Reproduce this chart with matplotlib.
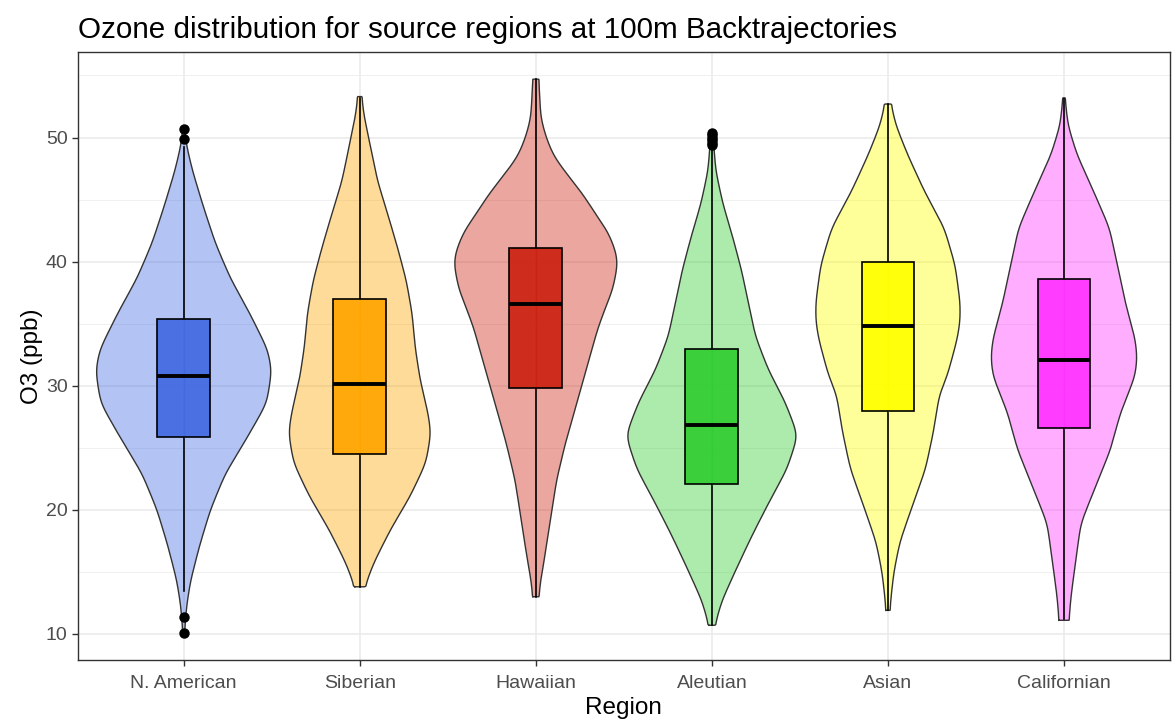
import numpy as np
import matplotlib
matplotlib.use("Agg")
import matplotlib.pyplot as plt

# ---------------- data ----------------
regions = ["N. American", "Siberian", "Hawaiian", "Aleutian", "Asian", "Californian"]
box_colors = ["#4169E1", "#FFA500", "#CC2211", "#32CD32", "#FFFF00", "#FF33FF"]

# violin outlines: (O3 value, relative density)
na_violin = [(10.1, 0.8), (12.3, 3), (14.3, 7), (17.1, 16), (20.0, 27), (22.9, 42), (25.8, 64),
             (28.6, 84), (31.2, 89), (32.9, 85), (35.8, 67), (38.7, 47), (41.5, 32), (44.4, 20),
             (47.3, 9), (49.3, 3), (50.7, 0.8)]
sib_violin = [(13.8, 5), (15.7, 14), (18.4, 31), (21.1, 51), (23.8, 67), (26.2, 72), (27.8, 69),
              (30.5, 61), (33.1, 56), (35.8, 53), (38.5, 47), (41.2, 38), (43.9, 28), (46.5, 18),
              (49.2, 11), (51.9, 4), (53.3, 2)]
haw_violin = [(13.0, 3), (14.4, 5), (16.2, 9), (19.3, 15), (22.4, 21), (25.4, 30), (28.5, 41),
              (31.6, 52), (34.7, 63), (36.2, 70), (37.8, 78), (39.9, 83), (40.8, 81), (42.4, 73),
              (43.9, 60), (45.5, 47), (47.0, 32), (48.5, 18), (50.1, 10), (51.6, 5), (54.7, 3)]
ale_violin = [(10.7, 3), (12.65, 10), (15.3, 25), (18.0, 41), (20.65, 58), (23.3, 76), (26.0, 87),
              (28.7, 74), (31.3, 57), (34.0, 44), (36.65, 37), (39.3, 30), (42.0, 21), (44.7, 11),
              (47.3, 4), (49.2, 2), (50.4, 1.5)]
asi_violin = [(11.9, 2), (12.9, 3), (15.0, 6), (17.4, 12), (20.4, 25), (23.3, 38), (26.3, 46),
              (29.3, 52), (30.8, 60), (33.75, 70), (35.2, 73), (36.7, 73), (39.7, 68), (42.7, 57),
              (45.65, 37), (48.6, 20), (51.0, 8), (52.7, 3)]
cal_violin = [(11.1, 5), (13.0, 7), (16.0, 12), (18.9, 17), (21.9, 32), (24.85, 47), (27.8, 57),
              (30.8, 72), (32.3, 74), (33.75, 72), (36.7, 62), (39.7, 54), (42.7, 46), (45.65, 30),
              (48.65, 13), (51.0, 4), (53.2, 1)]
violins = [na_violin, sib_violin, haw_violin, ale_violin, asi_violin, cal_violin]

q1 = [25.9, 24.5, 29.85, 22.1, 28.0, 26.6]
median = [30.75, 30.15, 36.6, 26.85, 34.8, 32.1]
q3 = [35.35, 36.95, 41.1, 32.95, 40.0, 38.6]
whisker_lo = [13.5, 13.8, 13.0, 10.7, 11.9, 11.2]
whisker_hi = [49.2, 53.2, 54.7, 49.0, 52.7, 53.1]
outliers = [[50.7, 49.9, 11.4, 10.1], [], [], [50.4, 50.2, 50.0, 49.8, 49.6, 49.4], [], []]

yticks = [10, 20, 30, 40, 50]


def smooth_profile(vy, vd, yy, sigma=0.6):
    """linear interpolation of the read outline, then gentle gaussian smoothing"""
    lin = np.interp(yy, vy, vd)
    step = yy[1] - yy[0]
    r = int(np.ceil(3 * sigma / step))
    k = np.exp(-0.5 * (np.arange(-r, r + 1) * step / sigma) ** 2)
    k /= k.sum()
    pad = np.concatenate([np.full(r, lin[0]), lin, np.full(r, lin[-1])])
    sm = np.convolve(pad, k, mode='valid')
    sm[0] = lin[0]; sm[-1] = lin[-1]
    return sm


plt.rcParams['font.family'] = ['Liberation Sans', 'DejaVu Sans']
fig = plt.figure(figsize=(11.72, 7.21), dpi=100)
ax = fig.add_axes([0.0666, 0.0846, 0.9314, 0.8434])

max_dens = max(max(d for _, d in v) for v in violins)
half_max = 0.5

for i, (v, col) in enumerate(zip(violins, box_colors)):
    xc = i + 1
    vy = [p[0] for p in v]; vd = [p[1] for p in v]
    yy = np.linspace(vy[0], vy[-1], 600)
    hw = np.maximum(smooth_profile(vy, vd, yy), 0.3) / max_dens * half_max
    xs = np.concatenate([xc - hw, (xc + hw)[::-1]])
    ys = np.concatenate([yy, yy[::-1]])
    ax.fill(xs, ys, facecolor=col, alpha=0.4, edgecolor='none', zorder=2)
    ax.plot(np.append(xs, xs[0]), np.append(ys, ys[0]), color='#333333', lw=1.0, zorder=3)
    ax.plot([xc, xc], [whisker_lo[i], q1[i]], color='black', lw=1.2, zorder=4)
    ax.plot([xc, xc], [q3[i], whisker_hi[i]], color='black', lw=1.2, zorder=4)
    bw = 0.15
    ax.add_patch(plt.Rectangle((xc - bw, q1[i]), 2 * bw, q3[i] - q1[i], facecolor=col,
                               edgecolor='none', zorder=5, alpha=0.92))
    ax.plot([xc, xc], [q1[i], q3[i]], color=col, lw=1.0, zorder=5.5, alpha=0.9)
    ax.add_patch(plt.Rectangle((xc - bw, q1[i]), 2 * bw, q3[i] - q1[i], facecolor='none',
                               edgecolor='black', lw=1.2, zorder=6))
    ax.plot([xc - bw, xc + bw], [median[i], median[i]], color='black', lw=2.8, zorder=7,
            solid_capstyle='butt')
    if outliers[i]:
        ax.plot([xc] * len(outliers[i]), outliers[i], 'o', color='black', ms=6.5, zorder=8)

ax.set_xlim(0.4, 6.6)
ax.set_ylim(7.9, 56.9)
ax.set_xticks(range(1, 7))
ax.set_xticklabels(regions)
ax.set_yticks(yticks)
ax.set_yticks([15, 25, 35, 45, 55], minor=True)
ax.grid(True, which='major', color='#EBEBEB', lw=1.2, zorder=0)
ax.grid(True, which='minor', axis='y', color='#F0F0F0', lw=0.7, zorder=0)
ax.set_axisbelow(True)
ax.tick_params(axis='x', which='major', colors='#333333', labelsize=14, length=4.5,
               width=1, labelcolor='#4D4D4D', pad=6)
ax.tick_params(axis='y', which='major', colors='#333333', labelsize=14, length=4.5,
               width=1, labelcolor='#4D4D4D', pad=3)
ax.tick_params(axis='y', which='minor', length=0)
for s in ax.spines.values():
    s.set_color('#333333'); s.set_linewidth(1.0)
ax.set_xlabel('Region', fontsize=17.5, color='black', labelpad=4)
ax.set_ylabel('O3 (ppb)', fontsize=17.5, color='black', labelpad=2)
ax.set_title('Ozone distribution for source regions at 100m Backtrajectories', fontsize=21.3,
             loc='left', pad=10, color='black')

fig.savefig('out.png', dpi=100)
